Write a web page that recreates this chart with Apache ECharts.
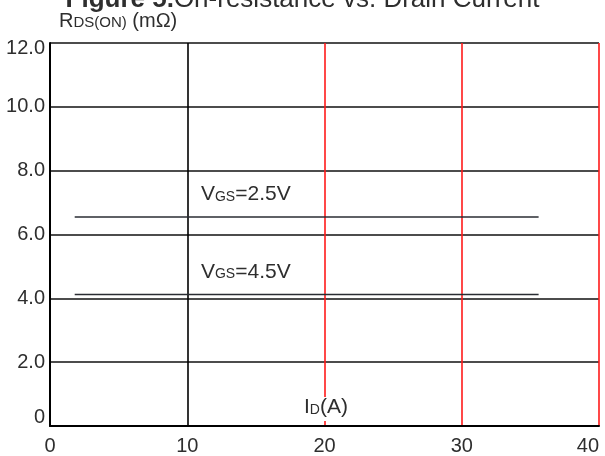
<!DOCTYPE html>
<html>
<head>
<meta charset="utf-8">
<script src="https://cdn.jsdelivr.net/npm/echarts@6/dist/echarts.min.js"></script>
<style>html,body{margin:0;padding:0;background:#fff;}#c{width:605px;height:456px;}</style>
</head>
<body>
<div id="c"></div>
<script>
// Data
const xTicks = [0, 10, 20, 30, 40];
const yTicks = [0, 2, 4, 6, 8, 10, 12];
const vgs25X = [1.8, 35.6];
const vgs25Y = [6.55, 6.55];
const vgs45X = [1.8, 35.6];
const vgs45Y = [4.12, 4.12];
const labelPos25 = [11, 6.55];
const labelPos45 = [11, 4.12];
const vSplitColors = ['#000000', '#000000', '#ff1a1a', '#ff1a1a', '#ff1a1a'];

const FONT = 'Liberation Sans, Arial, sans-serif';
const TXT = '#2e2e2e';

function pairs(xs, ys) { return xs.map((x, i) => [x, ys[i]]); }

const chart = echarts.init(document.getElementById('c'), null, { renderer: 'canvas' });

function vgsMark(coord, val) {
  return {
    symbol: 'circle', symbolSize: 0, silent: true,
    data: [{ coord: coord }],
    label: {
      show: true, position: [0, 0], align: 'left', verticalAlign: 'bottom', offset: [0, -12],
      formatter: '{v|V}{s|GS}{v|=' + val + 'V}',
      rich: {
        v: { fontSize: 21, fontFamily: FONT, color: TXT, verticalAlign: 'bottom' },
        s: { fontSize: 14, fontFamily: FONT, color: TXT, verticalAlign: 'bottom', padding: [0, 0, 1, 0] }
      }
    }
  };
}

chart.setOption({
  animation: false,
  backgroundColor: '#fff',
  title: {
    left: 'center', top: -18,
    text: '{b|Figure 5.}{n|On-resistance vs. Drain Current}',
    textStyle: {
      fontWeight: 'normal',
      rich: {
        b: { fontSize: 26, fontWeight: 'bold', fontFamily: FONT, color: TXT, verticalAlign: 'bottom' },
        n: { fontSize: 26, fontWeight: 'normal', fontFamily: FONT, color: TXT, verticalAlign: 'bottom' }
      }
    }
  },
  grid: { left: 50, right: 6, top: 43, bottom: 30, containLabel: false, outerBoundsMode: 'none' },
  xAxis: {
    type: 'value', min: xTicks[0], max: xTicks[xTicks.length - 1], interval: 10,
    axisLine: { show: true, lineStyle: { color: '#000', width: 2 } },
    axisTick: { show: false },
    axisLabel: { fontSize: 20, fontFamily: FONT, color: TXT, margin: 10, alignMaxLabel: 'right' },
    splitLine: { show: true, lineStyle: { color: vSplitColors, width: 1.6 } },
    name: '{a|I}{s|D}{a|(A)}',
    nameLocation: 'middle', nameGap: -29, nameMoveOverlap: false,
    nameTextStyle: {
      backgroundColor: '#fff', padding: [0, 3, 3, 6],
      rich: {
        a: { fontSize: 21, fontFamily: FONT, color: TXT, verticalAlign: 'bottom' },
        s: { fontSize: 14, fontFamily: FONT, color: TXT, verticalAlign: 'bottom', padding: [0, 0, 1, 0] }
      }
    }
  },
  yAxis: {
    type: 'value', min: yTicks[0], max: yTicks[yTicks.length - 1], interval: 2,
    axisLine: { show: true, lineStyle: { color: '#000', width: 2 } },
    axisTick: { show: false },
    axisLabel: {
      fontSize: 20, fontFamily: FONT, color: TXT, margin: 5,
      formatter: function (v) {
        if (v === 0) return '{lo|0}';
        if (v === 12) return '{hi|' + v.toFixed(1) + '}';
        return v.toFixed(1);
      },
      rich: {
        lo: { fontSize: 20, fontFamily: FONT, color: TXT, padding: [0, 0, 18, 0] },
        hi: { fontSize: 20, fontFamily: FONT, color: TXT, padding: [10, 0, 0, 0] }
      }
    },
    splitLine: { show: true, lineStyle: { color: '#111', width: 1.6 } },
    name: '{r|R}{s|DS(ON)}{r| (mΩ)}',
    nameLocation: 'end', nameGap: 12, nameMoveOverlap: false,
    nameTextStyle: {
      align: 'left', verticalAlign: 'bottom', padding: [0, 0, 0, 9],
      rich: {
        r: { fontSize: 20, fontFamily: FONT, color: TXT, verticalAlign: 'bottom' },
        s: { fontSize: 15, fontFamily: FONT, color: TXT, verticalAlign: 'bottom', padding: [0, 0, 1, 0] }
      }
    }
  },
  series: [
    {
      name: 'VGS=2.5V', type: 'line', data: pairs(vgs25X, vgs25Y), symbol: 'none',
      lineStyle: { color: '#2a2d33', width: 1.6 }, z: 3,
      markPoint: vgsMark(labelPos25, '2.5')
    },
    {
      name: 'VGS=4.5V', type: 'line', data: pairs(vgs45X, vgs45Y), symbol: 'none',
      lineStyle: { color: '#2a2d33', width: 1.6 }, z: 3,
      markPoint: vgsMark(labelPos45, '4.5')
    }
  ]
});
</script>
</body>
</html>
